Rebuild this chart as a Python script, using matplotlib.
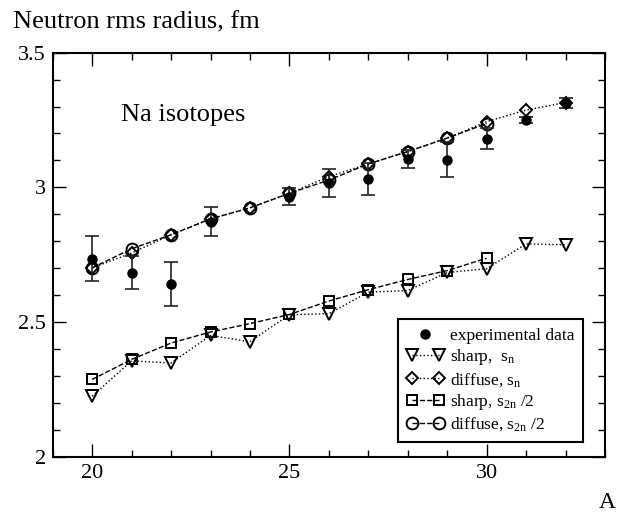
import matplotlib
matplotlib.use('Agg')
import matplotlib.pyplot as plt
from matplotlib.legend_handler import HandlerLine2D
from matplotlib.ticker import MultipleLocator, FuncFormatter

plt.rcParams['font.family'] = ['Liberation Serif', 'DejaVu Serif']
plt.rcParams['mathtext.fontset'] = 'custom'
plt.rcParams['mathtext.rm'] = 'Liberation Serif'
plt.rcParams['mathtext.it'] = 'Liberation Serif:italic'

# Experimental data
A_exp = [20, 21, 22, 23, 25, 26, 27, 28, 29, 30, 31, 32]
r_exp = [2.735, 2.683, 2.640, 2.873, 2.966, 3.015, 3.031, 3.105, 3.103, 3.181, 3.250, 3.313]
err_exp = [0.083, 0.062, 0.082, 0.053, 0.030, 0.052, 0.060, 0.032, 0.065, 0.040, 0.012, 0.018]

# sharp, s_n
A_sharp_sn = [20, 21, 22, 23, 24, 25, 26, 27, 28, 29, 30, 31, 32]
r_sharp_sn = [2.225, 2.356, 2.348, 2.450, 2.427, 2.527, 2.531, 2.611, 2.617, 2.684, 2.698, 2.790, 2.787]

# diffuse, s_n
A_diff_sn = [20, 21, 22, 23, 24, 25, 26, 27, 28, 29, 30, 31, 32]
r_diff_sn = [2.701, 2.756, 2.824, 2.883, 2.924, 2.978, 3.040, 3.087, 3.133, 3.183, 3.244, 3.287, 3.315]

# sharp, s_2n/2
A_sharp_s2n = [20, 21, 22, 23, 24, 25, 26, 27, 28, 29, 30]
r_sharp_s2n = [2.287, 2.361, 2.422, 2.463, 2.494, 2.528, 2.578, 2.620, 2.658, 2.691, 2.737]

# diffuse, s_2n/2
A_diff_s2n = [20, 21, 22, 23, 24, 25, 26, 27, 28, 29, 30]
r_diff_s2n = [2.701, 2.772, 2.824, 2.883, 2.924, 2.978, 3.027, 3.087, 3.133, 3.183, 3.237]

fig = plt.figure(figsize=(6.25, 5.15), dpi=100)
ax = fig.add_axes([52.7/625, 1-456.7/515, (605-52.7)/625, (456.7-52.7)/515])

lw = 1.0
mew = 1.4
l_tri, = ax.plot(A_sharp_sn, r_sharp_sn, ls=':', color='k', lw=lw, marker='v',
                 ms=9, mfc='none', mec='k', mew=mew, label=r'sharp,  s$_{\rm n}$')
l_dia, = ax.plot(A_diff_sn, r_diff_sn, ls=':', color='k', lw=lw, marker='D',
                 ms=6.5, mfc='none', mec='k', mew=mew, label=r'diffuse, s$_{\rm n}$')
l_sq, = ax.plot(A_sharp_s2n, r_sharp_s2n, ls='--', color='k', lw=lw, marker='s',
                ms=7.5, mfc='none', mec='k', mew=mew, label=r'sharp, s$_{\rm 2n}$ /2')
l_circ, = ax.plot(A_diff_s2n, r_diff_s2n, ls='--', color='k', lw=lw, marker='o',
                  ms=8.5, mfc='none', mec='k', mew=mew, label=r'diffuse, s$_{\rm 2n}$ /2')
ax.errorbar(A_exp, r_exp, yerr=err_exp, fmt='none', ecolor='#222222',
            elinewidth=1.2, capsize=5, capthick=1.2, zorder=4)
l_exp, = ax.plot(A_exp, r_exp, ls='none', marker='o', ms=6.5, color='k',
                 zorder=5, label='experimental data')

ax.set_xlim(19, 33)
ax.set_ylim(2, 3.5)
ax.xaxis.set_major_locator(MultipleLocator(5))
ax.xaxis.set_minor_locator(MultipleLocator(1))
ax.yaxis.set_major_locator(MultipleLocator(0.5))
ax.yaxis.set_minor_locator(MultipleLocator(0.1))
ax.yaxis.set_major_formatter(FuncFormatter(lambda v, p: '%g' % v))
ax.tick_params(which='both', direction='in', top=True, right=True,
               labelsize=16, pad=5)
ax.tick_params(which='major', length=9.5, width=1.0)
ax.tick_params(which='minor', length=5, width=1.0)
for s in ax.spines.values():
    s.set_linewidth(1.5)

leg = ax.legend(handles=[l_exp, l_tri, l_dia, l_sq, l_circ],
                handler_map={l_exp: HandlerLine2D(numpoints=1)},
                numpoints=2, loc='lower right', bbox_to_anchor=(0.960, 0.036),
                borderaxespad=0, fontsize=12.5, fancybox=False, framealpha=1,
                edgecolor='k', handlelength=2.2, handletextpad=0.3,
                labelspacing=0.2, borderpad=0.5)
leg.get_frame().set_linewidth(1.5)

fig.text(121/625, 1-115/515, 'Na isotopes', fontsize=19, va='center', ha='left')
fig.text(13/625, 1-22/515, 'Neutron rms radius, fm', fontsize=19, va='center', ha='left')
fig.text(607/625, 1-502/515, 'A', fontsize=17, va='center', ha='center')

fig.savefig('out.png', dpi=100)
